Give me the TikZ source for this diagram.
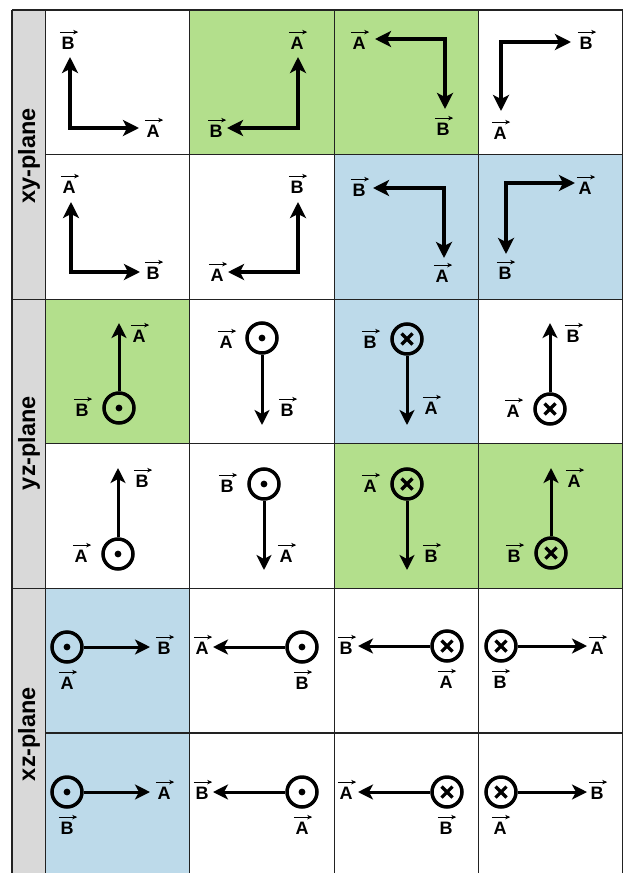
\documentclass[tikz,border=0pt]{standalone}
\usepackage{fontspec}
\setmainfont{Liberation Sans}
\usetikzlibrary{arrows.meta}
\definecolor{gcell}{HTML}{B3DF8C}
\definecolor{bcell}{HTML}{BDDAEA}
\definecolor{sidecol}{HTML}{D9D9D9}
\definecolor{gridcol}{HTML}{222222}
\tikzset{
  vecbar/.style={draw, line width=0.8bp, -{Stealth[length=5bp,width=4.5bp,inset=1.5bp]}},
  lab/.style={inner sep=0pt, yshift=-5bp, font=\fontsize{18bp}{20bp}\selectfont\bfseries,
    append after command={([shift={(-1.5bp,4.5bp)}]\tikzlastnode.north west) edge[vecbar] ([shift={(3.5bp,4.5bp)}]\tikzlastnode.north east)}},
  plane/.style={rotate=90, inner sep=0pt, font=\fontsize{23.5bp}{26bp}\selectfont\bfseries},
  lvec/.style={line width=4bp, {Stealth[length=16bp,width=16bp,inset=4bp]}-{Stealth[length=16bp,width=16bp,inset=4bp]}},
  cvec/.style={line width=3bp, -{Stealth[length=15bp,width=15bp,inset=4bp]}},
  ring/.style={circle, draw, line width=3.5bp, minimum size=30bp, inner sep=0pt},
  ringdot/.style={ring, path picture={\fill (path picture bounding box.center) circle[radius=3.4bp];}},
  ringx/.style={ring, path picture={\draw[line width=3.2bp] (path picture bounding box.center) +(-5.5bp,-5.5bp) -- +(5.5bp,5.5bp) (path picture bounding box.center) +(-5.5bp,5.5bp) -- +(5.5bp,-5.5bp);}},
  gridline/.style={draw=gridcol, line width=1.1bp}
}
\begin{document}
\begin{tikzpicture}[x=1bp,y=-1bp]
\fill[white] (0,0) rectangle (623,873);
\useasboundingbox (0,0) rectangle (623,873);
% side column
\fill[sidecol] (12,10) rectangle (45.5,873);
% coloured cells
\fill[gcell] (189.8,10) rectangle (334.1,154.6);
\fill[gcell] (334.1,10) rectangle (478.4,154.6);
\fill[bcell] (334.1,154.6) rectangle (478.4,299.2);
\fill[bcell] (478.4,154.6) rectangle (623,299.2);
\fill[gcell] (45.5,299.2) rectangle (189.8,443.8);
\fill[bcell] (334.1,299.2) rectangle (478.4,443.8);
\fill[gcell] (334.1,443.8) rectangle (478.4,588.4);
\fill[gcell] (478.4,443.8) rectangle (623,588.4);
\fill[bcell] (45.5,588.4) rectangle (189.8,873);
% grid
\foreach \gx in {12,45.5,189.8,334.1,478.4,622.4}{\draw[gridline] (\gx,10) -- (\gx,873);}
\foreach \gy in {10,299.2,588.4}{\draw[gridline] (12,\gy) -- (623,\gy);}
\foreach \gy in {154.6,443.8,733}{\draw[gridline] (45.5,\gy) -- (623,\gy);}
% plane labels
\node[plane] (pxy) at (29,156) {xy-plane};
\node[plane] (pyz) at (29,443) {yz-plane};
\node[plane] (pxz) at (29,734) {xz-plane};

% ---------- row 1 ----------
\coordinate (k11) at (70,128); \coordinate (tb11) at (70,57); \coordinate (ta11) at (139,128);
\draw[lvec] (tb11) -- (k11) -- (ta11);
\node[lab] (b11) at (68,38) {B}; \node[lab] (a11) at (153,126) {A};

\coordinate (k12) at (298,128); \coordinate (ta12) at (298,57); \coordinate (tb12) at (227,128);
\draw[lvec] (ta12) -- (k12) -- (tb12);
\node[lab] (a12) at (297,38) {A}; \node[lab] (b12) at (216,126) {B};

\coordinate (k13) at (445,39); \coordinate (ta13) at (375,39); \coordinate (tb13) at (445,109);
\draw[lvec] (ta13) -- (k13) -- (tb13);
\node[lab] (a13) at (359,38) {A}; \node[lab] (b13) at (443,124) {B};

\coordinate (k14) at (501,42); \coordinate (tb14) at (571,42); \coordinate (ta14) at (501,111);
\draw[lvec] (tb14) -- (k14) -- (ta14);
\node[lab] (b14) at (586,38) {B}; \node[lab] (a14) at (500,128) {A};

% ---------- row 2 ----------
\coordinate (k21) at (71,272); \coordinate (ta21) at (71,202); \coordinate (tb21) at (140,272);
\draw[lvec] (ta21) -- (k21) -- (tb21);
\node[lab] (a21) at (69,182) {A}; \node[lab] (b21) at (153,268) {B};

\coordinate (k22) at (298,272); \coordinate (tb22) at (298,202); \coordinate (ta22) at (228,272);
\draw[lvec] (tb22) -- (k22) -- (ta22);
\node[lab] (b22) at (297,182) {B}; \node[lab] (a22) at (217,270) {A};

\coordinate (k23) at (444,188); \coordinate (tb23) at (373,188); \coordinate (ta23) at (444,258);
\draw[lvec] (tb23) -- (k23) -- (ta23);
\node[lab] (b23) at (359,185) {B}; \node[lab] (a23) at (442,271) {A};

\coordinate (k24) at (506,183); \coordinate (ta24) at (575,183); \coordinate (tb24) at (506,254);
\draw[lvec] (ta24) -- (k24) -- (tb24);
\node[lab] (a24) at (585,183) {A}; \node[lab] (b24) at (505,268) {B};

% ---------- row 3 ----------
\node[ringdot] (r31) at (119,408) {}; \coordinate (t31) at (119,323);
\draw[cvec] (r31) -- (t31);
\node[lab] (a31) at (139,331) {A}; \node[lab] (b31) at (82,405) {B};

\node[ringdot] (r32) at (262,338) {}; \coordinate (t32) at (262,425);
\draw[cvec] (r32) -- (t32);
\node[lab] (a32) at (226,337) {A}; \node[lab] (b32) at (287,405) {B};

\node[ringx] (r33) at (407,339) {}; \coordinate (t33) at (407,425);
\draw[cvec] (r33) -- (t33);
\node[lab] (b33) at (370,337) {B}; \node[lab] (a33) at (431,403) {A};

\node[ringx] (r34) at (550,409) {}; \coordinate (t34) at (550,323);
\draw[cvec] (r34) -- (t34);
\node[lab] (b34) at (573,331) {B}; \node[lab] (a34) at (513,406) {A};

% ---------- row 4 ----------
\node[ringdot] (r41) at (118,554) {}; \coordinate (t41) at (118,468);
\draw[cvec] (r41) -- (t41);
\node[lab] (b41) at (142,476) {B}; \node[lab] (a41) at (81,551) {A};

\node[ringdot] (r42) at (264,484) {}; \coordinate (t42) at (264,570);
\draw[cvec] (r42) -- (t42);
\node[lab] (b42) at (227,481) {B}; \node[lab] (a42) at (286,551) {A};

\node[ringx] (r43) at (407,484) {}; \coordinate (t43) at (407,570);
\draw[cvec] (r43) -- (t43);
\node[lab] (a43) at (370,481) {A}; \node[lab] (b43) at (431,551) {B};

\node[ringx] (r44) at (551,553) {}; \coordinate (t44) at (551,468);
\draw[cvec] (r44) -- (t44);
\node[lab] (a44) at (574,476) {A}; \node[lab] (b44) at (514,551) {B};

% ---------- row 5 ----------
\node[ringdot] (r51) at (67,647) {}; \coordinate (t51) at (150,647);
\draw[cvec] (r51) -- (t51);
\node[lab] (b51) at (164,643) {B}; \node[lab] (a51) at (67,678) {A};

\node[ringdot] (r52) at (302,647) {}; \coordinate (t52) at (213,647);
\draw[cvec] (r52) -- (t52);
\node[lab] (a52) at (202,643) {A}; \node[lab] (b52) at (302,678) {B};

\node[ringx] (r53) at (447,646) {}; \coordinate (t53) at (358,646);
\draw[cvec] (r53) -- (t53);
\node[lab] (b53) at (346,643) {B}; \node[lab] (a53) at (446,677) {A};

\node[ringx] (r54) at (501,646) {}; \coordinate (t54) at (587,646);
\draw[cvec] (r54) -- (t54);
\node[lab] (a54) at (597,643) {A}; \node[lab] (b54) at (500,677) {B};

% ---------- row 6 ----------
\node[ringdot] (r61) at (67,792) {}; \coordinate (t61) at (150,792);
\draw[cvec] (r61) -- (t61);
\node[lab] (a61) at (164,788) {A}; \node[lab] (b61) at (67,823) {B};

\node[ringdot] (r62) at (302,792) {}; \coordinate (t62) at (213,792);
\draw[cvec] (r62) -- (t62);
\node[lab] (b62) at (202,788) {B}; \node[lab] (a62) at (302,823) {A};

\node[ringx] (r63) at (447,792) {}; \coordinate (t63) at (358,792);
\draw[cvec] (r63) -- (t63);
\node[lab] (a63) at (346,788) {A}; \node[lab] (b63) at (446,823) {B};

\node[ringx] (r64) at (501,792) {}; \coordinate (t64) at (587,792);
\draw[cvec] (r64) -- (t64);
\node[lab] (b64) at (597,788) {B}; \node[lab] (a64) at (500,823) {A};
\end{tikzpicture}
\end{document}
